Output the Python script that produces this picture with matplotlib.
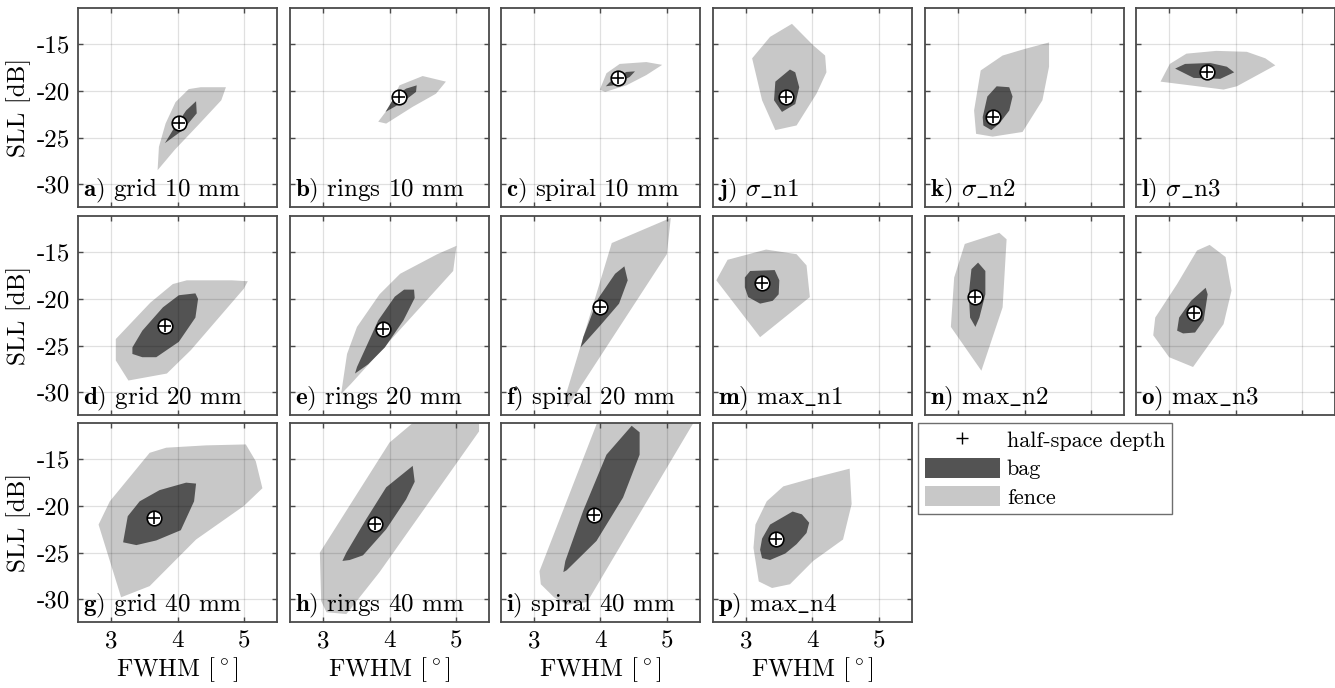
import matplotlib
matplotlib.use("Agg")
import matplotlib.pyplot as plt
from matplotlib.patches import Patch
from matplotlib.lines import Line2D

plt.rcParams['font.family'] = 'serif'
plt.rcParams['font.serif'] = ['cmr10']
plt.rcParams['mathtext.fontset'] = 'cm'
plt.rcParams['font.size'] = 18

# fence / bag polygons (FWHM [deg], SLL [dB]) read from the bagplots, plus the depth median
fence_a = [(3.70, -28.5), (3.72, -26.0), (3.82, -23.5), (3.97, -21.2), (4.17, -19.8), (4.35, -19.6),
           (4.73, -19.6), (4.66, -21.0), (4.32, -23.6), (3.96, -26.3)]
bag_a = [(3.81, -25.6), (3.93, -24.2), (4.13, -22.1), (4.28, -21.1), (4.29, -22.4), (4.08, -24.2)]
med_a = (4.03, -23.4)

fence_b = [(3.83, -23.3), (4.00, -21.7), (4.15, -19.4), (4.50, -18.4), (4.85, -19.0), (4.70, -20.3),
           (4.35, -21.7), (3.95, -23.5)]
bag_b = [(3.94, -22.25), (4.08, -20.6), (4.25, -19.75), (4.41, -19.4), (4.40, -20.1), (4.20, -21.2)]
med_b = (4.14, -20.6)

fence_c = [(3.99, -19.86), (4.09, -18.1), (4.29, -17.1), (4.69, -16.9), (4.93, -17.2), (4.69, -18.3),
           (4.39, -19.4), (4.07, -20.1)]
bag_c = [(4.08, -19.5), (4.19, -18.7), (4.39, -17.96), (4.52, -17.9), (4.44, -18.5), (4.19, -19.4)]
med_c = (4.27, -18.6)

fence_d = [(3.26, -28.75), (3.84, -28.0), (4.20, -25.5), (5.00, -18.9), (5.06, -18.1), (4.82, -18.0),
           (4.14, -18.0), (3.93, -18.4), (3.59, -20.4), (3.07, -24.3), (3.07, -26.6)]
bag_d = [(3.32, -25.9), (3.47, -26.25), (3.68, -26.25), (4.02, -24.6), (4.27, -22.0), (4.31, -20.0),
         (4.27, -19.4), (4.02, -19.6), (3.78, -20.9), (3.47, -23.4), (3.32, -25.2)]
med_d = (3.81, -22.9)

fence_e = [(3.27, -30.2), (3.42, -29.1), (4.10, -23.75), (4.96, -17.0), (5.01, -14.3), (4.72, -15.2),
           (4.16, -17.3), (3.85, -19.5), (3.51, -23.0), (3.36, -25.9)]
bag_e = [(3.48, -28.0), (3.51, -27.3), (3.83, -22.3), (4.08, -19.75), (4.22, -19.0), (4.37, -19.0),
         (4.38, -19.9), (4.21, -22.3), (3.93, -25.2), (3.68, -27.0)]
med_e = (3.90, -23.2)

fence_f = [(3.50, -31.6), (3.49, -30.0), (4.17, -14.0), (5.06, -11.3), (5.00, -15.2)]
bag_f = [(3.70, -25.2), (3.74, -24.1), (3.96, -20.0), (4.22, -17.3), (4.36, -16.5), (4.41, -18.0),
         (4.28, -20.5), (3.99, -22.9)]
med_f = (4.00, -20.9)

fence_g = [(3.15, -29.8), (3.58, -28.6), (4.28, -23.6), (5.00, -20.0), (5.28, -18.1), (5.18, -15.2),
           (5.03, -13.4), (4.43, -13.5), (3.83, -13.75), (3.58, -14.3), (2.98, -19.5), (2.81, -22.0)]
bag_g = [(3.18, -23.9), (3.38, -24.2), (3.68, -23.7), (4.05, -22.6), (4.25, -19.5), (4.28, -17.6),
         (4.13, -17.5), (3.73, -18.3), (3.43, -19.5), (3.25, -21.1)]
med_g = (3.65, -21.25)

fence_h = [(2.95, -25.0), (2.97, -30.2), (3.05, -31.4), (3.35, -31.6), (3.85, -27.1), (5.35, -12.0),
           (5.35, -10.5), (4.45, -10.5), (4.00, -13.2)]
bag_h = [(3.29, -25.9), (3.35, -25.0), (3.65, -21.4), (3.95, -18.0), (4.35, -15.7), (4.38, -17.4),
         (4.25, -19.3), (3.95, -22.5), (3.60, -25.3), (3.40, -25.8)]
med_h = (3.78, -21.9)

fence_i = [(3.08, -27.0), (3.10, -28.4), (3.30, -29.8), (3.50, -30.6), (3.80, -30.3), (5.45, -10.5),
           (3.98, -10.5)]
bag_i = [(3.44, -27.1), (3.47, -25.9), (3.74, -20.5), (4.09, -14.5), (4.47, -11.4), (4.59, -12.1),
         (4.59, -14.5), (4.34, -19.1), (3.94, -23.75), (3.49, -26.9)]
med_i = (3.90, -20.96)

fence_j = [(3.09, -16.5), (3.36, -14.2), (3.69, -12.8), (4.01, -15.1), (4.19, -16.2), (4.21, -18.0),
           (4.06, -20.3), (3.76, -23.7), (3.44, -24.2), (3.24, -21.0)]
bag_j = [(3.44, -19.0), (3.66, -17.7), (3.74, -18.0), (3.80, -19.6), (3.74, -21.4), (3.54, -22.25),
         (3.42, -21.0)]
med_j = (3.60, -20.7)

fence_k = [(3.27, -24.6), (3.24, -22.1), (3.34, -17.8), (3.67, -16.2), (4.00, -15.5), (4.37, -14.8),
           (4.37, -17.4), (4.27, -21.0), (3.97, -24.4), (3.52, -24.9)]
bag_k = [(3.37, -22.8), (3.44, -20.6), (3.58, -19.5), (3.77, -19.6), (3.82, -20.6), (3.77, -22.1),
         (3.62, -23.5), (3.50, -24.2), (3.38, -23.7)]
med_k = (3.52, -22.8)

fence_l = [(2.87, -19.0), (3.01, -17.1), (3.26, -16.0), (3.71, -15.7), (4.17, -15.8), (4.45, -16.5),
           (4.60, -17.25), (4.02, -19.5), (3.82, -19.85)]
bag_l = [(3.09, -17.6), (3.24, -17.1), (3.62, -17.0), (3.87, -17.4), (3.98, -18.0), (3.77, -18.7),
         (3.37, -18.6)]
med_l = (3.57, -18.0)

fence_m = [(2.55, -18.0), (2.72, -15.8), (3.30, -14.7), (3.76, -15.2), (3.91, -16.4), (3.96, -19.8),
           (3.21, -24.1)]
bag_m = [(2.98, -17.7), (3.06, -17.0), (3.43, -16.9), (3.50, -18.0), (3.49, -19.5), (3.40, -20.2),
         (3.21, -20.5), (3.03, -19.8), (2.98, -18.75)]
med_m = (3.24, -18.3)

fence_n = [(2.89, -23.0), (2.94, -17.7), (3.10, -14.1), (3.62, -12.9), (3.73, -13.6), (3.67, -20.9),
           (3.35, -27.7)]
bag_n = [(3.16, -19.5), (3.20, -16.8), (3.30, -16.1), (3.41, -17.0), (3.41, -19.5), (3.32, -22.0),
         (3.26, -23.0), (3.18, -22.0)]
med_n = (3.26, -19.8)

fence_o = [(2.76, -23.9), (2.79, -22.0), (3.12, -18.4), (3.42, -14.8), (3.61, -14.2), (3.85, -15.5),
           (3.94, -19.1), (3.82, -22.7), (3.36, -27.3), (3.00, -26.25)]
bag_o = [(3.12, -23.4), (3.15, -22.0), (3.33, -20.2), (3.55, -18.8), (3.58, -19.5), (3.52, -22.3),
         (3.39, -23.6), (3.21, -23.7)]
med_o = (3.38, -21.5)

fence_p = [(3.19, -28.1), (3.11, -24.5), (3.14, -22.0), (3.31, -19.5), (3.56, -17.9), (4.01, -17.0),
           (4.56, -16.0), (4.59, -19.8), (4.46, -23.6), (4.01, -25.9), (3.66, -28.4), (3.39, -28.8)]
bag_p = [(3.21, -24.7), (3.24, -23.5), (3.36, -22.0), (3.70, -20.6), (3.84, -20.9), (3.95, -21.8),
         (3.91, -22.9), (3.76, -24.1), (3.59, -25.1), (3.36, -25.8), (3.24, -25.6)]
med_p = (3.45, -23.5)

labels = {
    'a': r'$\mathbf{a}$) grid 10 mm', 'b': r'$\mathbf{b}$) rings 10 mm', 'c': r'$\mathbf{c}$) spiral 10 mm',
    'd': r'$\mathbf{d}$) grid 20 mm', 'e': r'$\mathbf{e}$) rings 20 mm', 'f': r'$\mathbf{f}$) spiral 20 mm',
    'g': r'$\mathbf{g}$) grid 40 mm', 'h': r'$\mathbf{h}$) rings 40 mm', 'i': r'$\mathbf{i}$) spiral 40 mm',
    'j': r'$\mathbf{j}$) $\sigma\_$n1', 'k': r'$\mathbf{k}$) $\sigma\_$n2', 'l': r'$\mathbf{l}$) $\sigma\_$n3',
    'm': r'$\mathbf{m}$) max$\_$n1', 'n': r'$\mathbf{n}$) max$\_$n2', 'o': r'$\mathbf{o}$) max$\_$n3',
    'p': r'$\mathbf{p}$) max$\_$n4',
}

# (row, col, fence, bag, median, key)
panels = [
    (0, 0, fence_a, bag_a, med_a, 'a'), (0, 1, fence_b, bag_b, med_b, 'b'), (0, 2, fence_c, bag_c, med_c, 'c'),
    (0, 3, fence_j, bag_j, med_j, 'j'), (0, 4, fence_k, bag_k, med_k, 'k'), (0, 5, fence_l, bag_l, med_l, 'l'),
    (1, 0, fence_d, bag_d, med_d, 'd'), (1, 1, fence_e, bag_e, med_e, 'e'), (1, 2, fence_f, bag_f, med_f, 'f'),
    (1, 3, fence_m, bag_m, med_m, 'm'), (1, 4, fence_n, bag_n, med_n, 'n'), (1, 5, fence_o, bag_o, med_o, 'o'),
    (2, 0, fence_g, bag_g, med_g, 'g'), (2, 1, fence_h, bag_h, med_h, 'h'), (2, 2, fence_i, bag_i, med_i, 'i'),
    (2, 3, fence_p, bag_p, med_p, 'p'),
]

x_ticks = [3, 4, 5]
y_ticks = [-30, -25, -20, -15]

W, H = 1335, 688
col_left = [78, 290, 501, 713, 925, 1136]
row_top = [8, 216, 423]
ax_w, ax_h = 199, 199

FENCE = '#c8c8c8'
BAG = '#535353'
EDGE = '#4a4a4a'

fig = plt.figure(figsize=(W / 100, H / 100), dpi=100)

for row, col, fence, bag, med, key in panels:
    ax = fig.add_axes([col_left[col] / W, 1 - (row_top[row] + ax_h) / H, ax_w / W, ax_h / H])
    ax.fill([p[0] for p in fence], [p[1] for p in fence], color=FENCE, lw=0, zorder=1)
    ax.fill([p[0] for p in bag], [p[1] for p in bag], color=BAG, lw=0, zorder=2)
    ax.plot(med[0], med[1], 'o', ms=10.5, mfc='white', mec='black', mew=1.2, zorder=5)
    ax.plot(med[0], med[1], '+', ms=8, mec='black', mew=1.2, zorder=6)
    ax.set_xlim(2.5, 5.5)
    ax.set_ylim(-32.45, -11.1)
    ax.set_xticks(x_ticks)
    ax.set_yticks(y_ticks)
    ax.grid(True, color='black', alpha=0.12, lw=0.9)
    ax.set_axisbelow(False)
    ax.tick_params(direction='in', top=True, right=True, length=3.5, width=1, color=EDGE, pad=6)
    for s in ax.spines.values():
        s.set_color(EDGE)
        s.set_linewidth(1.3)
    if col == 0:
        ax.set_yticklabels([str(v) for v in y_ticks])
        ax.set_ylabel('SLL [dB]', labelpad=4)
    else:
        ax.set_yticklabels([])
    if row == 2:
        ax.set_xticklabels([str(v) for v in x_ticks])
        ax.set_xlabel(r'FWHM $[^\circ]$', labelpad=2)
    else:
        ax.set_xticklabels([])
    ax.text(0.025, 0.01, labels[key], transform=ax.transAxes, ha='left', va='bottom', zorder=7)

handles = [
    Line2D([], [], ls='none', marker='+', ms=8, mec='black', mew=1.0),
    Patch(facecolor=BAG, edgecolor='none'),
    Patch(facecolor=FENCE, edgecolor='none'),
]
leg = fig.legend(handles, ['half-space depth', 'bag', 'fence'], loc='upper left',
                 bbox_to_anchor=(918 / W, 1 - 423 / H), frameon=True, fancybox=False, fontsize=16,
                 handlelength=3.4, handleheight=1.0, handletextpad=0.3, labelspacing=0.3,
                 borderpad=0.3, borderaxespad=0)
leg.get_frame().set_edgecolor(EDGE)
leg.get_frame().set_linewidth(1.0)

fig.savefig('out.png', dpi=100)
